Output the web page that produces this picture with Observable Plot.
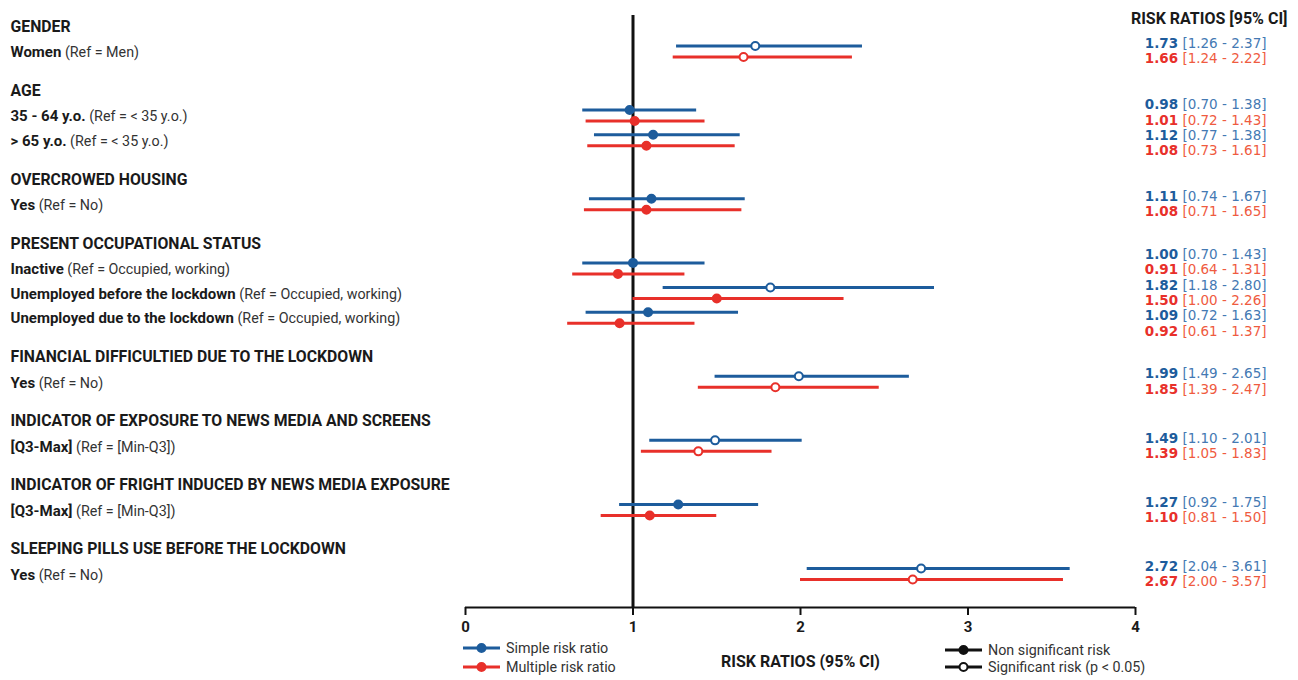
<!DOCTYPE html>
<html><head><meta charset="utf-8">
<script src="https://cdn.jsdelivr.net/npm/d3@7"></script>
<script src="https://cdn.jsdelivr.net/npm/@observablehq/plot@0.6"></script>
<style>
body{margin:0;background:#fff;}
svg{font-family:Roboto, sans-serif;}
</style></head><body><div id="chart"></div>
<script>
// ---------- DATA ----------
const groups = [
  "GENDER", "AGE", "OVERCROWED HOUSING", "PRESENT OCCUPATIONAL STATUS",
  "FINANCIAL DIFFICULTIED DUE TO THE LOCKDOWN",
  "INDICATOR OF EXPOSURE TO NEWS MEDIA AND SCREENS",
  "INDICATOR OF FRIGHT INDUCED BY NEWS MEDIA EXPOSURE",
  "SLEEPING PILLS USE BEFORE THE LOCKDOWN"
];
const itemGroup = [0, 1, 1, 2, 3, 3, 3, 4, 5, 6, 7];
const itemName = ["Women", "35 - 64 y.o.", "> 65 y.o.", "Yes", "Inactive",
  "Unemployed before the lockdown", "Unemployed due to the lockdown", "Yes",
  "[Q3-Max]", "[Q3-Max]", "Yes"];
const itemRef = ["(Ref = Men)", "(Ref = < 35 y.o.)", "(Ref = < 35 y.o.)", "(Ref = No)",
  "(Ref = Occupied, working)", "(Ref = Occupied, working)", "(Ref = Occupied, working)",
  "(Ref = No)", "(Ref = [Min-Q3])", "(Ref = [Min-Q3])", "(Ref = No)"];

// Simple risk ratio (drawn)
const simpleRR  = [1.73, 0.98, 1.12, 1.11, 1.00, 1.82, 1.09, 1.99, 1.49, 1.27, 2.72];
const simpleLo  = [1.26, 0.70, 0.77, 0.74, 0.70, 1.18, 0.72, 1.49, 1.10, 0.92, 2.04];
const simpleHi  = [2.37, 1.38, 1.64, 1.67, 1.43, 2.80, 1.63, 2.65, 2.01, 1.75, 3.61];
const simpleSig = [1, 0, 0, 0, 0, 1, 0, 1, 1, 0, 1];
const simpleCI  = ["[1.26 - 2.37]", "[0.70 - 1.38]", "[0.77 - 1.38]", "[0.74 - 1.67]",
  "[0.70 - 1.43]", "[1.18 - 2.80]", "[0.72 - 1.63]", "[1.49 - 2.65]", "[1.10 - 2.01]",
  "[0.92 - 1.75]", "[2.04 - 3.61]"];

// Multiple risk ratio (drawn)
const multRR  = [1.66, 1.01, 1.08, 1.08, 0.91, 1.50, 0.92, 1.85, 1.39, 1.10, 2.67];
const multLo  = [1.24, 0.72, 0.73, 0.71, 0.64, 1.00, 0.61, 1.39, 1.05, 0.81, 2.00];
const multHi  = [2.31, 1.43, 1.61, 1.65, 1.31, 2.26, 1.37, 2.47, 1.83, 1.50, 3.57];
const multSig = [1, 0, 0, 0, 0, 0, 0, 1, 1, 0, 1];
const multCI  = ["[1.24 - 2.22]", "[0.72 - 1.43]", "[0.73 - 1.61]", "[0.71 - 1.65]",
  "[0.64 - 1.31]", "[1.00 - 2.26]", "[0.61 - 1.37]", "[1.39 - 2.47]", "[1.05 - 1.83]",
  "[0.81 - 1.50]", "[2.00 - 3.57]"];

const xTicks = [0, 1, 2, 3, 4];
const legendSeries = ["Simple risk ratio", "Multiple risk ratio"];
const legendSig = ["Non significant risk", "Significant risk (p < 0.05)"];

// ---------- LAYOUT ----------
const BLUE = "#1d5c9c", RED = "#e8302a";
const BLUE_L = "#4479b3", RED_L = "#ef5b3f";
const GROUP_GAP = 2.6;             // slots between last item of a group and first of next
let slots = [], cur = 0;
itemGroup.forEach((g, i) => { if (i > 0) cur += (g !== itemGroup[i - 1]) ? GROUP_GAP : 1; slots.push(cur); });
const maxSlot = slots[slots.length - 1];
const yTop = 51, yBot = 573.5;
const slotPx = (yBot - yTop) / maxSlot;
const axisSlot = (607 - yTop) / slotPx;

const rows = itemName.map((n, i) => ({ text: n + "\u200B" + itemRef[i], slot: slots[i] }));
const headers = groups.map((g, gi) => ({ text: g, slot: slots[itemGroup.indexOf(gi)] - 1 }));
const simple = slots.map((s, i) => ({ slot: s, rr: simpleRR[i], lo: simpleLo[i], hi: simpleHi[i], sig: simpleSig[i] }));
const mult = slots.map((s, i) => ({ slot: s, rr: multRR[i], lo: multLo[i], hi: multHi[i], sig: multSig[i] }));

// right column: stacked lines per group
const rightLines = [];
groups.forEach((g, gi) => {
  const idx = itemGroup.map((x, i) => x === gi ? i : -1).filter(i => i >= 0);
  const center = d3.mean(idx, i => slots[i]);
  const n = idx.length * 2;
  let k = 0;
  idx.forEach(i => {
    rightLines.push({ slot: center + (k - (n - 1) / 2) * 15.3 / slotPx, s: "b",
      text: simpleRR[i].toFixed(2) + "\u200C" + simpleCI[i] }); k++;
    rightLines.push({ slot: center + (k - (n - 1) / 2) * 15.3 / slotPx, s: "r",
      text: multRR[i].toFixed(2) + "\u200D" + multCI[i] }); k++;
  });
});

const svg = Plot.plot({
  width: 1298, height: 680,
  marginLeft: 465, marginRight: 163, marginTop: 15, marginBottom: 73,
  x: { domain: [0, 4] },
  y: { domain: [0, maxSlot], range: [yTop, yBot], axis: null },
  style: { fontFamily: "Roboto, sans-serif", background: "white", overflow: "visible" },
  marks: [
    Plot.axisX({ ticks: xTicks, tickSize: 8, tickPadding: 6, strokeWidth: 2, stroke: "#111",
      fontSize: 15, fontWeight: "bold", fill: "#1a1a1a", label: null, tickFormat: d => String(d) }),
    Plot.ruleY([axisSlot], { stroke: "#111", strokeWidth: 2 }),
    Plot.ruleX([1], { stroke: "#111", strokeWidth: 3 }),
    // CI lines
    Plot.ruleY(simple, { y: "slot", x1: "lo", x2: "hi", stroke: BLUE, strokeWidth: 3, dy: -5.5 }),
    Plot.ruleY(mult, { y: "slot", x1: "lo", x2: "hi", stroke: RED, strokeWidth: 3, dy: 5.5 }),
    // point estimates
    Plot.dot(simple, { x: "rr", y: "slot", r: 4, stroke: BLUE, strokeWidth: 2,
      fill: d => d.sig ? "white" : BLUE, dy: -5.5 }),
    Plot.dot(mult, { x: "rr", y: "slot", r: 4, stroke: RED, strokeWidth: 2,
      fill: d => d.sig ? "white" : RED, dy: 5.5 }),
    // left labels
    Plot.text(headers, { y: "slot", text: "text", frameAnchor: "left", dx: -455, textAnchor: "start",
      fontSize: 15.8, fontWeight: "bold", fill: "#1a1a1a" }),
    Plot.text(rows, { y: "slot", text: "text", frameAnchor: "left", dx: -455, dy: 1, textAnchor: "start",
      fontSize: 15, fontWeight: "bold", fill: "#1a1a1a" }),
    // right values
    Plot.text(rightLines, { y: "slot", text: "text", frameAnchor: "right", dx: 131, textAnchor: "end",
      fontSize: 13.5, fontWeight: "bold", fontFamily: "DejaVu Sans, sans-serif",
      fill: d => d.s === "b" ? BLUE : RED }),
    // titles
    Plot.text(["RISK RATIOS [95% CI]"], { frameAnchor: "top-right", dx: 152, dy: 3, lineAnchor: "middle",
      textAnchor: "end", fontSize: 16, fontWeight: "bold", fill: "#1a1a1a" }),
    Plot.text(["RISK RATIOS (95% CI)"], { frameAnchor: "bottom", dy: 54, lineAnchor: "middle",
      fontSize: 16, fontWeight: "bold", fill: "#1a1a1a" })
  ]
});

// split mixed-weight labels into tspans
d3.select(svg).selectAll("text").each(function () {
  const t = this.textContent;
  let sep = null, lightFill = null, normSize = null;
  if (t.includes("\u200B")) { sep = "\u200B"; lightFill = "#333"; normSize = 14.3; }
  else if (t.includes("\u200C")) { sep = "\u200C"; lightFill = BLUE_L; }
  else if (t.includes("\u200D")) { sep = "\u200D"; lightFill = RED_L; }
  if (!sep) return;
  const [a, b] = t.split(sep);
  const el = d3.select(this);
  el.text(null);
  el.append("tspan").attr("font-weight", "bold").text(a);
  const tb = el.append("tspan").attr("font-weight", "normal").attr("fill", lightFill).text(" " + b);
  if (normSize) tb.attr("font-size", normSize);
});

// legend
const s = d3.select(svg);
const lg = s.append("g").attr("font-family", "Roboto, sans-serif").attr("font-size", 14.3)
  .attr("fill", "#333").attr("text-anchor", "start");
[[648, BLUE, legendSeries[0], false, 463], [667, RED, legendSeries[1], false, 463],
 [650, "#111", legendSig[0], false, 945], [667, "#111", legendSig[1], true, 945]]
.forEach(([yy, c, t, open, x0]) => {
  lg.append("line").attr("x1", x0).attr("x2", x0 + 37).attr("y1", yy).attr("y2", yy)
    .attr("stroke", c).attr("stroke-width", 3);
  lg.append("circle").attr("cx", x0 + 18.5).attr("cy", yy).attr("r", 4)
    .attr("fill", open ? "white" : c).attr("stroke", c).attr("stroke-width", 2);
  lg.append("text").attr("x", x0 + 43).attr("y", yy).attr("dy", "0.35em")
    .attr("text-anchor", "start").text(t);
});

document.getElementById("chart").appendChild(svg);
</script>
</body></html>
